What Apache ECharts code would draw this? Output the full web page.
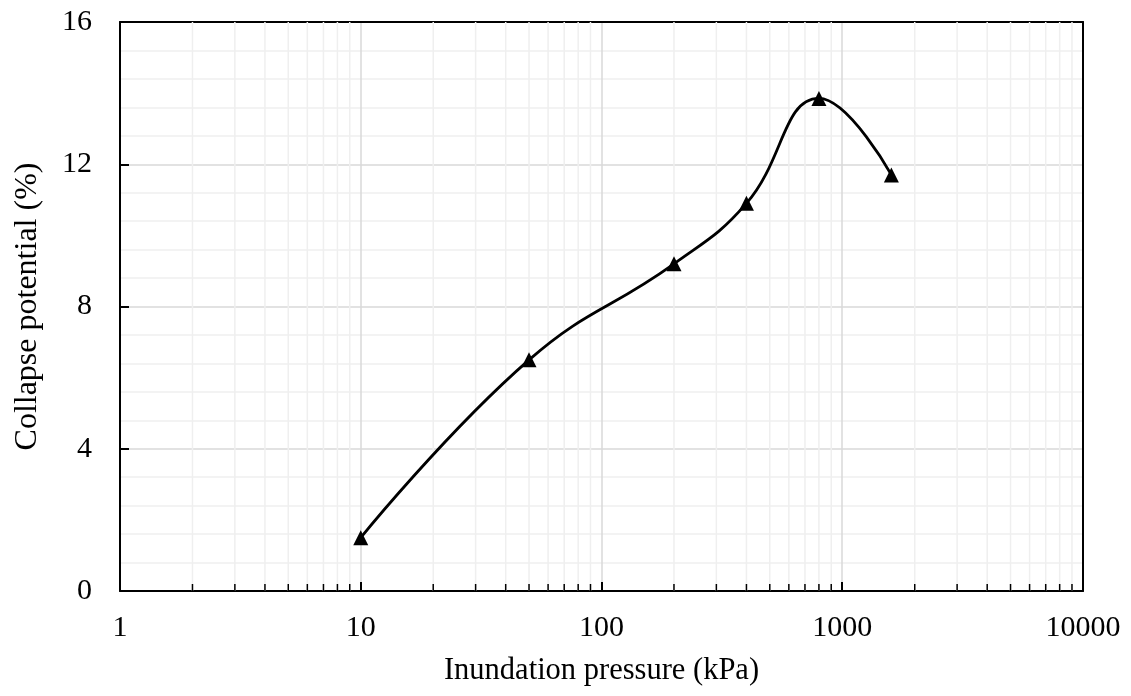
<!DOCTYPE html>
<html>
<head>
<meta charset="utf-8">
<script src="https://cdn.jsdelivr.net/npm/echarts@6/dist/echarts.min.js"></script>
<style>html,body{margin:0;padding:0;background:#fff}#c{width:1131px;height:696px}</style>
</head>
<body>
<div id="c"></div>
<script>
const pressures = [10, 50, 200, 400, 800, 1600];
const collapse = [1.5, 6.5, 9.2, 10.9, 13.85, 11.7];
const xMin = 1, xMax = 10000;
const yMin = 0, yMax = 16, yStep = 4;
const xTitle = 'Inundation pressure (kPa)';
const yTitle = 'Collapse potential (%)';

// minor log positions 2..9 per decade
const minorX = [];
for (let d = 1; d < xMax; d *= 10) {
  for (let k = 2; k <= 9; k++) minorX.push(k * d);
}

const font = 'Liberation Serif, Times New Roman, serif';
const blackLine = { show: true, onZero: false, lineStyle: { color: '#000', width: 2 } };
const chart = echarts.init(document.getElementById('c'));
chart.setOption({
  animation: false,
  backgroundColor: '#fff',
  grid: { left: 120, right: 48, top: 22, bottom: 105, outerBoundsMode: 'none', containLabel: false },
  xAxis: [{
    type: 'log', logBase: 10, min: xMin, max: xMax, splitNumber: 4,
    name: xTitle, nameLocation: 'middle', nameGap: 64,
    nameTextStyle: { fontFamily: font, fontSize: 30.5, color: '#000' },
    axisLine: blackLine,
    axisTick: { show: true, inside: true, length: 9, lineStyle: { color: '#000', width: 2 } },
    axisLabel: { fontFamily: font, fontSize: 30, color: '#000', margin: 22, formatter: v => String(Math.round(v)) },
    splitLine: { show: true, lineStyle: { color: '#d9d9d9', width: 1.5 } }
  }, {
    type: 'log', logBase: 10, min: xMin, max: xMax, position: 'top',
    axisLine: blackLine, axisTick: { show: false }, axisLabel: { show: false }, splitLine: { show: false }
  }],
  yAxis: [{
    type: 'value', min: yMin, max: yMax, interval: yStep,
    name: yTitle, nameLocation: 'middle', nameGap: 76,
    nameTextStyle: { fontFamily: font, fontSize: 32, color: '#000' },
    axisLine: blackLine,
    axisTick: { show: true, inside: true, length: 9, lineStyle: { color: '#000', width: 2 } },
    axisLabel: { fontFamily: font, fontSize: 30, color: '#000', margin: 28 },
    splitLine: { show: true, lineStyle: { color: '#d9d9d9', width: 1.5 } },
    minorTick: { show: false, splitNumber: 5 },
    minorSplitLine: { show: true, lineStyle: { color: '#efefef', width: 1.5 } }
  }, {
    type: 'value', min: yMin, max: yMax, interval: yStep, position: 'right',
    axisLine: blackLine, axisTick: { show: false }, axisLabel: { show: false }, splitLine: { show: false }
  }],
  series: [
    {
      type: 'custom', z: 1, silent: true,
      data: minorX.map(v => [v]),
      renderItem: function (params, api) {
        const v = api.value(0);
        const top = api.coord([v, yMax]);
        const bot = api.coord([v, yMin]);
        return {
          type: 'group',
          children: [
            { type: 'line', shape: { x1: bot[0], y1: bot[1], x2: top[0], y2: top[1] }, style: { stroke: '#efefef', lineWidth: 1.5 } },
            { type: 'line', shape: { x1: bot[0], y1: bot[1], x2: bot[0], y2: bot[1] - 7 }, style: { stroke: '#000', lineWidth: 1.5 } }
          ]
        };
      }
    },
    {
      type: 'line', z: 5,
      data: pressures.map((p, i) => [p, collapse[i]]),
      smooth: 0.45,
      symbol: 'triangle', symbolSize: 15,
      itemStyle: { color: '#000' },
      lineStyle: { color: '#000', width: 2.8 }
    }
  ]
});
</script>
</body>
</html>
